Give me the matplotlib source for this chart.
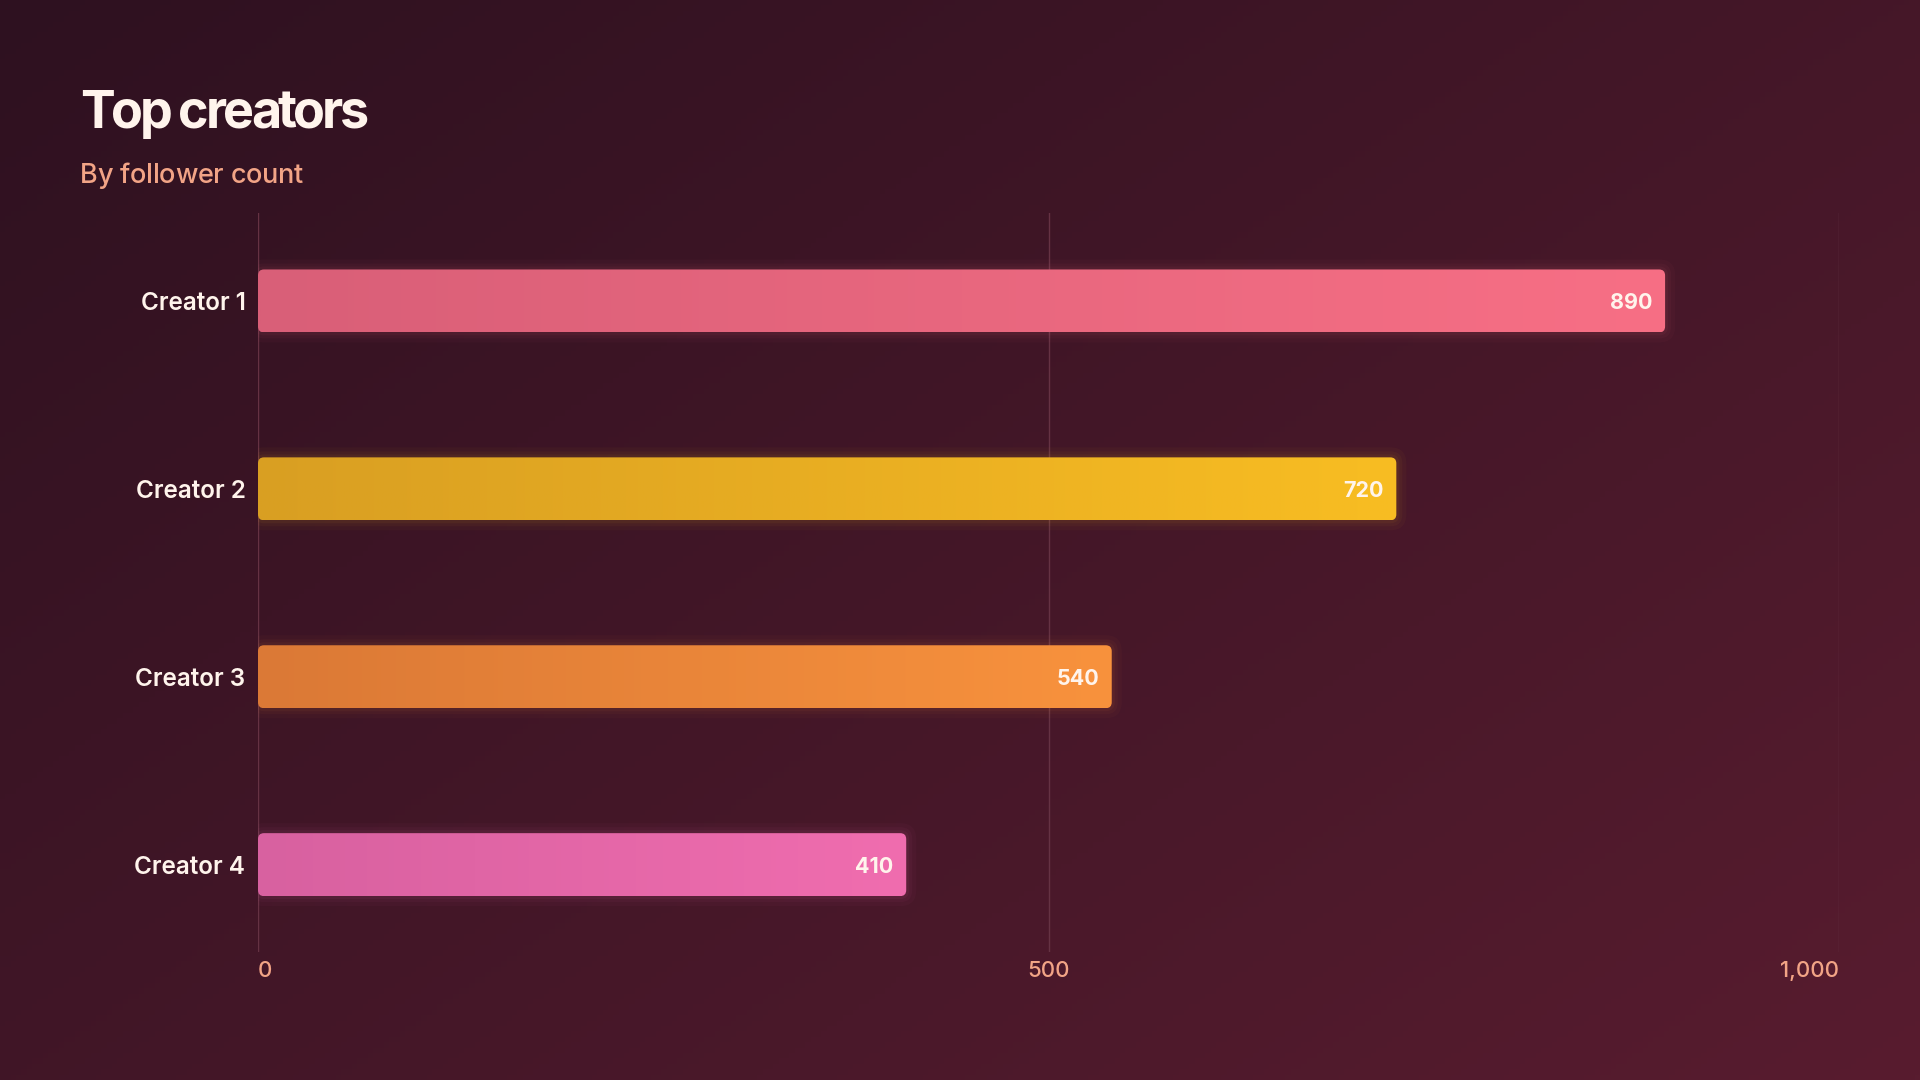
import numpy as np
import matplotlib
matplotlib.use("Agg")
import matplotlib.pyplot as plt
from matplotlib.patches import FancyBboxPatch
from matplotlib.colors import to_rgb

plt.rcParams['font.family'] = ['Inter', 'DejaVu Sans']

# ---- data ----
categories = ["Creator 1", "Creator 2", "Creator 3", "Creator 4"]
followers = [890, 720, 540, 410]
xticks = [0, 500, 1000]
xtick_labels = ["0", "500", "1,000"]
title = "Top creators"
subtitle = "By follower count"

# ---- styles ----
bar_left_colors = ["#d95f78", "#d99f22", "#db7936", "#d861a0"]
bar_right_colors = ["#f76f85", "#f8bd22", "#f8923d", "#f06daf"]
bg_tl, bg_br = "#2e1120", "#581c2f"
text_main = "#fff4ec"
text_accent = "#f2a486"
grid_color = "#653243"

W, H, DPI = 1920, 1080, 100
fig = plt.figure(figsize=(W / DPI, H / DPI), dpi=DPI)

# background gradient
bg_ax = fig.add_axes([0, 0, 1, 1], zorder=-10)
yy, xx = np.mgrid[0:1:200j, 0:1:360j]
t = (xx * 0.55 + yy * 0.45)
c0, c1 = np.array(to_rgb(bg_tl)), np.array(to_rgb(bg_br))
img = c0[None, None, :] * (1 - t[..., None]) + c1[None, None, :] * t[..., None]
bg_ax.imshow(img, extent=[0, 1, 0, 1], aspect='auto', origin='upper')
bg_ax.axis('off')

# main axes
left_px, right_px, top_px, bottom_px = 258, 1839, 213, 952
ax = fig.add_axes([left_px / W, 1 - bottom_px / H, (right_px - left_px) / W, (bottom_px - top_px) / H])
ax.set_facecolor("none")
ax.set_xlim(0, 1000)
ypos = np.arange(len(categories))
ax.set_ylim(3.465, -0.468)
for s in ax.spines.values():
    s.set_visible(False)

for xv in xticks:
    ax.axvline(xv, color=grid_color, lw=1.0, zorder=0)

bar_h = 0.335
bars = ax.barh(ypos, followers, height=bar_h, color="none", zorder=2)

fig.canvas.draw()
renderer = fig.canvas.get_renderer()
px_per_x = ((right_px - left_px)) / 1000.0
px_per_y = (bottom_px - top_px) / (3.465 + 0.468)
radius_px = 6
rs_x = radius_px / px_per_x
aspect = px_per_x / px_per_y

for i, (b, v) in enumerate(zip(bars, followers)):
    x0, y0 = b.get_x(), b.get_y()
    w, h = b.get_width(), b.get_height()
    for k, a in [(10, 0.03), (6, 0.04), (3, 0.05)]:
        gx = k / px_per_x
        gy = k / px_per_y
        glow = FancyBboxPatch((x0 - gx, y0 - gy), w + 2 * gx, h + 2 * gy,
                              boxstyle=f"round,pad=0,rounding_size={rs_x + gx}",
                              mutation_aspect=aspect, fc=bar_right_colors[i], ec="none",
                              alpha=a, zorder=1)
        ax.add_patch(glow)
    patch = FancyBboxPatch((x0, y0), w, h,
                           boxstyle=f"round,pad=0,rounding_size={rs_x}",
                           mutation_aspect=aspect, fc="none", ec="none", zorder=2)
    ax.add_patch(patch)
    cl, cr = np.array(to_rgb(bar_left_colors[i])), np.array(to_rgb(bar_right_colors[i]))
    g = np.linspace(0, 1, 256)[None, :, None]
    grad = cl[None, None, :] * (1 - g) + cr[None, None, :] * g
    im = ax.imshow(grad, extent=[x0, x0 + w, y0 + h, y0], aspect='auto', zorder=3,
                   interpolation='bilinear')
    im.set_clip_path(patch)
    ax.text(v - 12.5 / px_per_x, ypos[i], f"{v:,}", ha='right', va='center_baseline',
            color=text_main, fontsize=15.5, fontweight='bold', zorder=4)

ax.set_xlim(0, 1000)
ax.set_ylim(3.465, -0.468)

ax.set_yticks(ypos)
ax.set_yticklabels(categories, fontsize=17.5, fontweight='semibold', color=text_main)
ax.tick_params(axis='y', length=0, pad=9)

ax.set_xticks(xticks)
ax.set_xticklabels(xtick_labels, fontsize=16, fontweight='medium', color=text_accent)
ax.tick_params(axis='x', length=0, pad=6.5)
labs = ax.get_xticklabels()
labs[0].set_ha('left')
labs[1].set_ha('center')
labs[-1].set_ha('right')


def tracked_text(s, x_px, baseline_px, tracking_px, **kw):
    """Draw text with custom letter spacing, preserving kerning via prefix widths."""
    tmp = fig.text(0, 0, "|", **kw)
    wbar = tmp.get_window_extent(renderer).width
    tmp.remove()
    for i, ch in enumerate(s):
        if ch == " ":
            continue
        if i > 0:
            tmp = fig.text(0, 0, s[:i] + "|", **kw)
            off = tmp.get_window_extent(renderer).width - wbar
            tmp.remove()
        else:
            off = 0
        fig.text((x_px + off + i * tracking_px) / W, 1 - baseline_px / H, ch,
                 ha='left', va='baseline', **kw)


tracked_text(title, 80, 128, -3.4, fontsize=37.5, fontweight='bold', color=text_main)
tracked_text(subtitle, 80, 183, -0.25, fontsize=19.5, fontweight='medium', color=text_accent)

fig.savefig("out.png", dpi=DPI)
